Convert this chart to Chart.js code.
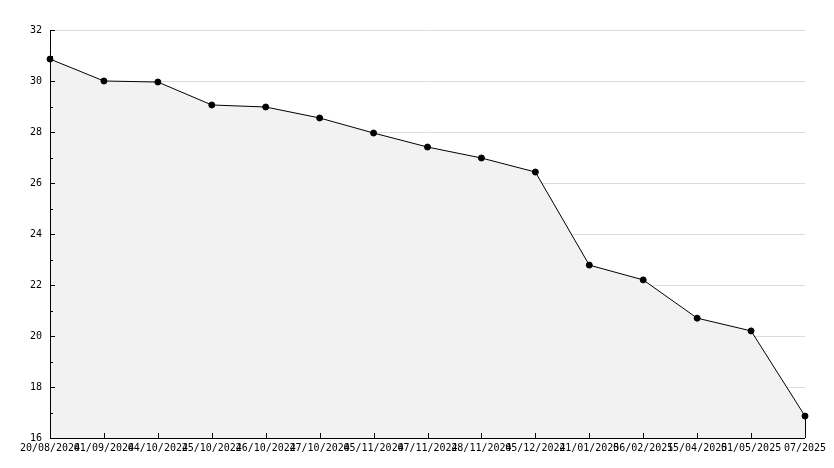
<!DOCTYPE html>
<html>
<head>
<meta charset="utf-8">
<script src="https://cdn.jsdelivr.net/npm/chart.js@4"></script>
<style>
  html, body { margin: 0; padding: 0; background: #fff; }
  #wrap { width: 834px; height: 468px; }
</style>
</head>
<body>
<div id="wrap"><canvas id="linechart" width="834" height="468"></canvas></div>
<script>
// data
var dateLabels = ["20/08/2024", "01/09/2024", "04/10/2024", "25/10/2024", "26/10/2024",
                  "27/10/2024", "05/11/2024", "07/11/2024", "28/11/2024", "05/12/2024",
                  "21/01/2025", "06/02/2025", "15/04/2025", "01/05/2025", "07/2025"]
var values = [30.86, 30.0, 29.96, 29.06, 28.98, 28.55, 27.96, 27.41, 26.98, 26.43,
              22.78, 22.2, 20.7, 20.2, 16.86]
var yMin = 16
var yMax = 32

var monoFont = { family: "'DejaVu Sans Mono', monospace", size: 10 }

// draws the black axes, the inward tick marks and the area outline
var axesPlugin = {
    id: 'axesPlugin',
    afterDatasetsDraw: function (chart) {
        var c = chart.ctx
        var area = chart.chartArea
        var xs = chart.scales.x
        var ys = chart.scales.y
        c.save()
        c.strokeStyle = '#000'
        c.lineWidth = 1
        // closing edge of the filled area at the last point
        var meta = chart.getDatasetMeta(0)
        var last = meta.data[meta.data.length - 1]
        c.beginPath()
        c.moveTo(Math.round(last.x) + 0.5, last.y)
        c.lineTo(Math.round(last.x) + 0.5, area.bottom)
        c.stroke()
        // axes
        c.beginPath()
        c.moveTo(area.left + 0.5, area.top)
        c.lineTo(area.left + 0.5, area.bottom + 0.5)
        c.lineTo(area.right, area.bottom + 0.5)
        c.stroke()
        // y ticks
        for (var v = yMin; v <= yMax; v++) {
            var py = Math.round(ys.getPixelForValue(v)) + 0.5
            var len = (v % 2 == 0) ? 5 : 3
            c.beginPath()
            c.moveTo(area.left, py)
            c.lineTo(area.left + len, py)
            c.stroke()
        }
        // x ticks
        for (var i = 0; i < dateLabels.length; i++) {
            var px = Math.round(xs.getPixelForValue(i)) + 0.5
            c.beginPath()
            c.moveTo(px, area.bottom)
            c.lineTo(px, area.bottom - 5)
            c.stroke()
        }
        c.restore()
    }
}

var ctx = document.getElementById('linechart').getContext('2d')
var myChart = new Chart(ctx, {
    type: 'line',
    data: {
        labels: dateLabels,
        datasets: [{
            data: values,
            borderColor: '#000',
            borderWidth: 1,
            backgroundColor: '#f2f2f2',
            fill: 'start',
            tension: 0,
            pointStyle: 'circle',
            pointRadius: 3,
            pointBackgroundColor: '#000',
            pointBorderColor: '#000',
            pointBorderWidth: 1
        }]
    },
    options: {
        responsive: false,
        animation: false,
        layout: { padding: { left: 0, top: 30, right: 29, bottom: 0 } },
        scales: {
            x: {
                offset: false,
                border: { display: false },
                grid: { display: false, drawTicks: false },
                ticks: {
                    autoSkip: false,
                    maxRotation: 0,
                    minRotation: 0,
                    padding: 4,
                    color: '#000',
                    font: monoFont
                },
                afterFit: function (scale) { scale.height = 30 }
            },
            y: {
                min: yMin,
                max: yMax,
                border: { display: false },
                grid: {
                    drawTicks: false,
                    color: function (c) {
                        return (c.tick && c.tick.value % 2 == 0 && c.tick.value != yMin) ? '#dcdcdc' : 'rgba(0,0,0,0)'
                    }
                },
                ticks: {
                    stepSize: 1,
                    padding: 8,
                    color: '#000',
                    font: monoFont,
                    callback: function (v) { return v % 2 == 0 ? v : '' }
                },
                afterFit: function (scale) { scale.width = 50 }
            }
        },
        plugins: {
            legend: { display: false },
            tooltip: { enabled: false }
        }
    },
    plugins: [axesPlugin]
})
</script>
</body>
</html>
